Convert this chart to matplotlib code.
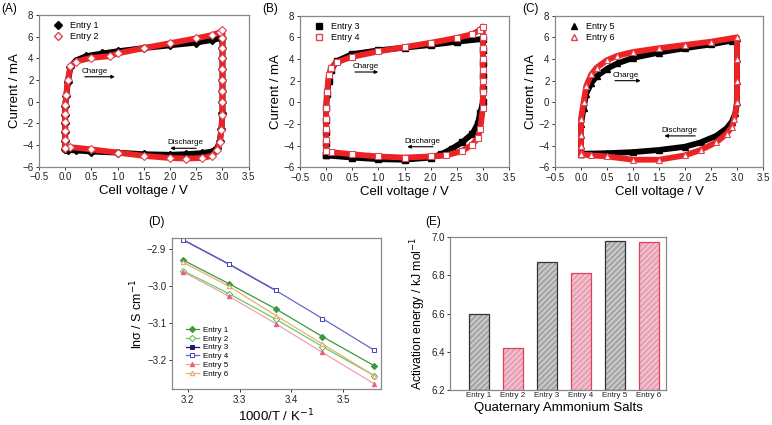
import matplotlib
matplotlib.use("Agg")
import matplotlib.pyplot as plt
import numpy as np

plt.rcParams['font.family'] = ['Liberation Sans', 'DejaVu Sans']
plt.rcParams['hatch.linewidth'] = 0.8

# ---- CV data (cell voltage / V, current / mA) ----
v1 = [0.0, 0.0, 0.0, 0.0, 0.0, 0.0, 0.02, 0.05, 0.1, 0.2, 0.4, 0.7, 1.0, 1.5, 2.0, 2.5, 2.8, 2.95,
      3.0, 3.0, 3.0, 3.0, 3.0, 3.0, 3.0, 3.0, 2.98, 2.95, 2.9, 2.8, 2.6, 2.3, 2.0, 1.5, 1.0, 0.5, 0.2, 0.05, 0.0]
i1 = [-4.4, -3.6, -2.8, -2.0, -1.2, -0.4, 0.5, 1.8, 3.2, 3.8, 4.2, 4.45, 4.65, 4.95, 5.2, 5.45, 5.7, 5.85,
      5.9, 5.0, 4.0, 3.0, 2.0, 1.0, 0.0, -1.0, -2.5, -3.6, -4.3, -4.6, -4.75, -4.85, -4.9, -4.85, -4.7, -4.6, -4.5, -4.45, -4.4]
v2 = [0.0, 0.0, 0.0, 0.0, 0.0, 0.0, 0.02, 0.05, 0.1, 0.2, 0.5, 0.85, 1.0, 1.5, 2.0, 2.5, 2.8, 2.95,
      3.0, 3.0, 3.0, 3.0, 3.0, 3.0, 3.0, 3.0, 3.0, 2.98, 2.95, 2.9, 2.8, 2.6, 2.3, 2.0, 1.5, 1.0, 0.5, 0.1, 0.0]
i2 = [-4.3, -3.5, -2.7, -1.9, -1.1, -0.3, 0.6, 2.0, 3.3, 3.7, 4.05, 4.2, 4.45, 4.95, 5.4, 5.85, 6.15, 6.4,
      6.6, 5.9, 5.0, 4.0, 3.0, 2.0, 1.0, 0.0, -1.2, -2.6, -3.7, -4.5, -5.0, -5.2, -5.25, -5.2, -5.0, -4.7, -4.4, -4.2, -4.3]

v3 = [0.0, 0.0, 0.0, 0.0, 0.0, 0.02, 0.05, 0.1, 0.2, 0.5, 1.0, 1.5, 2.0, 2.5, 3.0,
      3.0, 3.0, 3.0, 3.0, 3.0, 2.95, 2.9, 2.8, 2.6, 2.4, 2.2, 2.0, 1.5, 1.0, 0.5, 0.0]
i3 = [-4.9, -3.8, -2.7, -1.6, -0.5, 0.8, 2.0, 3.0, 3.8, 4.45, 4.8, 5.05, 5.3, 5.6, 5.85,
      4.8, 3.6, 2.4, 1.2, 0.0, -1.0, -2.0, -2.9, -3.7, -4.3, -4.8, -5.1, -5.3, -5.25, -5.1, -4.9]
v4 = [0.0, 0.0, 0.0, 0.0, 0.0, 0.02, 0.05, 0.1, 0.2, 0.5, 1.0, 1.5, 2.0, 2.5, 2.8, 2.95, 3.0,
      3.0, 3.0, 3.0, 3.0, 3.0, 3.0, 3.0, 2.95, 2.9, 2.8, 2.6, 2.3, 2.0, 1.5, 1.0, 0.5, 0.1, 0.0]
i4 = [-4.5, -3.5, -2.5, -1.5, -0.5, 1.0, 2.5, 3.2, 3.7, 4.2, 4.7, 5.1, 5.5, 5.95, 6.3, 6.7, 7.0,
      6.0, 5.0, 4.0, 3.0, 2.0, 1.0, -0.5, -2.5, -3.3, -3.9, -4.5, -4.9, -5.0, -5.1, -5.0, -4.8, -4.6, -4.5]

v5 = [0.0, 0.0, 0.0, 0.0, 0.05, 0.1, 0.2, 0.3, 0.5, 0.7, 1.0, 1.5, 2.0, 2.5, 2.9, 3.0,
      3.0, 3.0, 3.0, 2.97, 2.9, 2.8, 2.6, 2.3, 2.0, 1.5, 1.0, 0.5, 0.0]
i5 = [-4.8, -4.0, -3.0, -2.0, -0.5, 0.8, 1.8, 2.4, 3.1, 3.6, 4.1, 4.6, 5.0, 5.35, 5.7, 5.9,
      4.0, 2.0, 0.0, -1.0, -1.8, -2.4, -3.1, -3.7, -4.1, -4.4, -4.6, -4.7, -4.75]
v6 = [0.0, 0.0, 0.0, 0.0, 0.05, 0.1, 0.2, 0.3, 0.5, 0.7, 1.0, 1.5, 2.0, 2.5, 3.0,
      3.0, 3.0, 3.0, 2.95, 2.9, 2.8, 2.6, 2.3, 2.0, 1.5, 1.0, 0.5, 0.2, 0.0]
i6 = [-4.8, -4.0, -3.0, -1.5, 0.0, 1.5, 2.6, 3.2, 3.9, 4.3, 4.65, 5.0, 5.3, 5.6, 6.0,
      4.0, 2.0, 0.0, -1.5, -2.3, -2.9, -3.7, -4.4, -4.9, -5.3, -5.3, -5.0, -4.9, -4.8]

# ---- Arrhenius data ----
inv_t = [3.19, 3.28, 3.37, 3.46, 3.56]
ln_sigma = {
    "Entry 1": [-2.929, -2.994, -3.062, -3.137, -3.216],
    "Entry 2": [-2.958, -3.021, -3.090, -3.164, -3.243],
    "Entry 3": [-2.874, -2.941, -3.012, -3.088, -3.174],
    "Entry 4": [-2.874, -2.941, -3.012, -3.088, -3.174],
    "Entry 5": [-2.961, -3.028, -3.102, -3.180, -3.265],
    "Entry 6": [-2.935, -3.001, -3.080, -3.157, -3.243],
}

# ---- activation energies ----
entries = ["Entry 1", "Entry 2", "Entry 3", "Entry 4", "Entry 5", "Entry 6"]
ea = [6.60, 6.42, 6.87, 6.81, 6.98, 6.97]

W, H = 772, 425
fig = plt.figure(figsize=(W / 100, H / 100), dpi=100)


def box(l, t, r, b):
    return [l / W, 1 - b / H, (r - l) / W, (b - t) / H]


def style_axes(ax, size=7):
    for s in ax.spines.values():
        s.set_color('#888888')
        s.set_linewidth(0.9)
    ax.tick_params(direction='out', length=2.5, width=0.7, labelsize=size, pad=1.5,
                   top=False, right=False, colors='#333333', labelcolor='#222222')


RED = '#ee2222'


def cv_panel(rect, label, label_x, va, ia, vb, ib, mk, la, lb, charge, discharge):
    ax = fig.add_axes(box(*rect))
    ax.plot(va, ia, color='black', lw=4.2, marker=mk, ms=4, mfc='black', mec='black', zorder=2)
    ax.plot(vb, ib, color=RED, lw=4.2, marker=mk, ms=4, mfc='white', mec='#dd4455',
            mew=0.8, zorder=3)
    ax.set_xlim(-0.5, 3.5)
    ax.set_ylim(-6, 8)
    ax.set_xticks(np.arange(-0.5, 3.51, 0.5))
    ax.set_yticks(np.arange(-6, 8.1, 2))
    ax.set_xlabel("Cell voltage / V", fontsize=9.5, labelpad=2)
    ax.set_ylabel("Current / mA", fontsize=9.5, labelpad=1)
    style_axes(ax)
    # legend
    ax.plot([], [], ls='none', marker=mk, ms=4, color='black', label=la)
    ax.plot([], [], ls='none', marker=mk, ms=4, mfc='white', mec='#dd4455', label=lb)
    h, l = ax.get_legend_handles_labels()
    ax.legend(h[-2:], l[-2:], loc='upper left', frameon=False, fontsize=6.5,
              handlelength=1.0, handletextpad=0.8, borderaxespad=0.3, labelspacing=0.2,
              bbox_to_anchor=(0.04, 1.0))
    (cx, cy, cx2, cay) = charge
    ax.text(cx, cy, "Charge", fontsize=5.8, ha='left', va='bottom')
    ax.annotate("", xy=(cx2, cay), xytext=(cx, cay),
                arrowprops=dict(arrowstyle='-|>', color='black', lw=0.8, mutation_scale=5))
    (dx, dy, dx2, day) = discharge
    ax.text(dx2, dy, "Discharge", fontsize=5.8, ha='left', va='bottom')
    ax.annotate("", xy=(dx2, day), xytext=(dx, day),
                arrowprops=dict(arrowstyle='-|>', color='black', lw=0.8, mutation_scale=5))
    fig.text(label_x / W, 1 - 9 / H, label, fontsize=8.5, va='center')
    return ax


cv_panel((39, 15, 248.7, 166.7), "(A)", 1, v1, i1, v2, i2, 'D', "Entry 1", "Entry 2",
         (0.32, 2.5, 1.0, 2.3), (2.55, -4.1, 1.95, -4.3))
cv_panel((300, 15.7, 509, 167.3), "(B)", 262, v3, i3, v4, i4, 's', "Entry 3", "Entry 4",
         (0.5, 3.0, 1.05, 2.8), (2.1, -3.9, 1.5, -4.1))
cv_panel((555, 15.7, 763, 167.3), "(C)", 522, v5, i5, v6, i6, '^', "Entry 5", "Entry 6",
         (0.6, 2.2, 1.2, 2.0), (2.25, -2.9, 1.55, -3.1))

# ---- (D) ln sigma vs 1000/T ----
axd = fig.add_axes(box(171.7, 237.7, 381, 389))
d_styles = {
    "Entry 1": dict(color='#3a9a3a', marker='D', mfc='#3a9a3a', mec='#3a9a3a'),
    "Entry 2": dict(color='#66cc66', marker='D', mfc='white', mec='#55bb55'),
    "Entry 3": dict(color='#1a1a6e', marker='s', mfc='#1a1a6e', mec='#1a1a6e'),
    "Entry 4": dict(color='#6666cc', marker='s', mfc='white', mec='#4444bb'),
    "Entry 5": dict(color='#f0a0b0', marker='^', mfc='#e8607a', mec='#e8607a'),
    "Entry 6": dict(color='#e8b070', marker='^', mfc='white', mec='#e0a060'),
}
for name in entries:
    st = d_styles[name]
    xs, ys = inv_t, ln_sigma[name]
    if name == "Entry 3":
        xs, ys = inv_t[:3], ln_sigma[name][:3]
    axd.plot(xs, ys, lw=0.9, ms=3.2, mew=0.7, label=name, **st)
axd.set_xlim(3.169, 3.573)
axd.set_ylim(-3.279, -2.869)
axd.set_xticks([3.2, 3.3, 3.4, 3.5])
axd.set_yticks([-2.9, -3.0, -3.1, -3.2])
axd.set_xlabel("1000/T / K$^{-1}$", fontsize=9.5, labelpad=2)
axd.set_ylabel("ln\u03c3 / S cm$^{-1}$", fontsize=9, labelpad=1)
style_axes(axd)
axd.legend(loc='lower left', frameon=False, fontsize=5.8, handlelength=1.6,
           handletextpad=0.5, labelspacing=0.15, borderaxespad=0.6, bbox_to_anchor=(0.03, 0.02))
fig.text(148 / W, 1 - 222 / H, "(D)", fontsize=8.5, va='center')

# ---- (E) activation energy bars ----
axe = fig.add_axes(box(450.3, 236.7, 665.7, 390.3))
xpos = np.arange(len(entries))
fills = ['#a8a8a8', '#e8a2b6'] * 3
hatch_cols = ['#dddddd', '#f6d6e0'] * 3
edges = ['#333333', '#e0405a'] * 3
for x, v, fc, hc, ec in zip(xpos, ea, fills, hatch_cols, edges):
    axe.bar(x, v - 6.2, bottom=6.2, width=0.59, color=fc, edgecolor=hc, hatch='//////', lw=0)
    axe.bar(x, v - 6.2, bottom=6.2, width=0.59, fill=False, edgecolor=ec, lw=0.9)
axe.set_xlim(-0.835, 5.5)
axe.set_ylim(6.2, 7.0)
axe.set_xticks(xpos)
axe.set_xticklabels(entries)
axe.set_yticks([6.2, 6.4, 6.6, 6.8, 7.0])
axe.set_xlabel("Quaternary Ammonium Salts", fontsize=9.5, labelpad=2)
axe.set_ylabel("Activation energy / kJ mol$^{-1}$", fontsize=8.8, labelpad=2)
style_axes(axe)
axe.tick_params(axis='x', labelsize=5.8, length=0)
fig.text(425 / W, 1 - 222 / H, "(E)", fontsize=8.5, va='center')

fig.savefig("out.png", dpi=100)
